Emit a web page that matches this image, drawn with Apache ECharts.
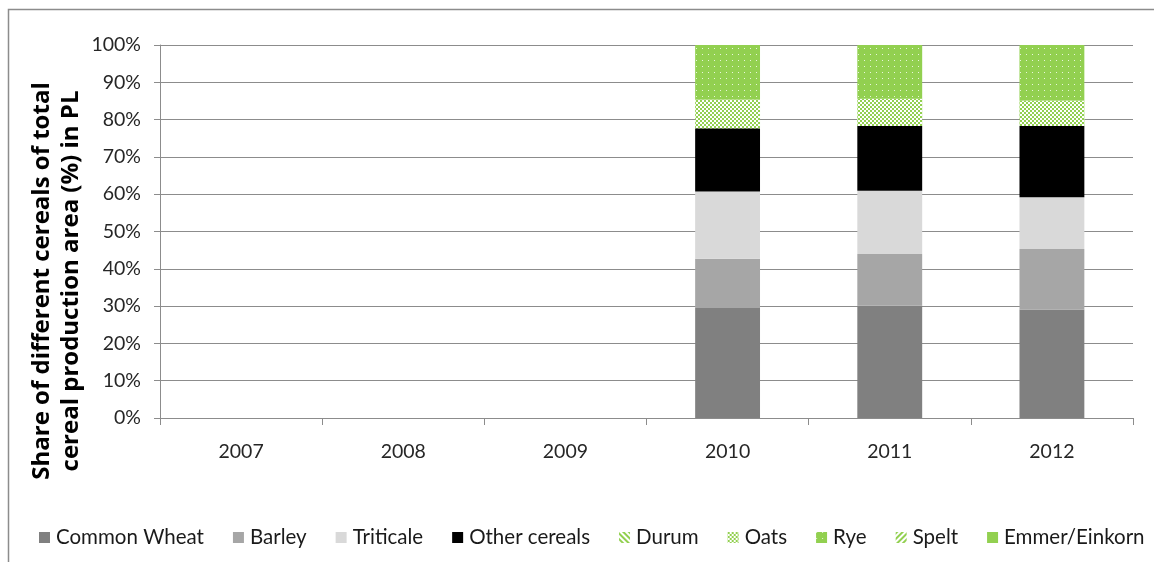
<!DOCTYPE html>
<html>
<head>
<meta charset="utf-8">
<script src="https://cdn.jsdelivr.net/npm/echarts@6/dist/echarts.min.js"></script>
<style>
  html, body { margin: 0; padding: 0; background: #fff; }
  #chart { width: 1154px; height: 562px; }
</style>
</head>
<body>
<div id="chart"></div>
<script>
// Years on the category axis
const years = ['2007', '2008', '2009', '2010', '2011', '2012'];

// Share of each cereal in total cereal production area (%), no data before 2010
const commonWheat  = [null, null, null, 29.5, 30.1, 29.1];
const barley       = [null, null, null, 13.2, 13.9, 16.2];
const triticale    = [null, null, null, 18.0, 16.9, 13.9];
const otherCereals = [null, null, null, 17.0, 17.4, 19.1];
const durum        = [null, null, null, 0, 0, 0];
const oats         = [null, null, null, 7.7, 7.3, 6.8];
const rye          = [null, null, null, 14.6, 14.4, 14.9];
const spelt        = [null, null, null, 0, 0, 0];
const emmer        = [null, null, null, 0, 0, 0];

// Y axis tick labels (percent)
const yTicks = [0, 10, 20, 30, 40, 50, 60, 70, 80, 90, 100];

const FONT = 'Lato';
const GREEN = '#92D050';

function bar(name, data, itemStyle) {
  return {
    name: name,
    type: 'bar',
    stack: 'total',
    barWidth: '40%',
    data: data,
    itemStyle: itemStyle,
    emphasis: { disabled: true }
  };
}

const series = [
  bar('Common Wheat', commonWheat, { color: '#808080' }),
  bar('Barley', barley, { color: '#A6A6A6' }),
  bar('Triticale', triticale, { color: '#D9D9D9' }),
  bar('Other cereals', otherCereals, { color: '#000000' }),
  bar('Durum', durum, {
    color: '#ffffff',
    decal: { symbol: 'rect', color: GREEN, dashArrayX: [1, 0], dashArrayY: [1.5, 2], rotation: Math.PI / 4, symbolSize: 1 }
  }),
  bar('Oats', oats, {
    color: GREEN,
    decal: { symbol: 'rect', color: '#ffffff', dashArrayX: [[2, 2], [0, 2, 2, 0]], dashArrayY: [2, 0], symbolSize: 1 }
  }),
  bar('Rye', rye, {
    color: GREEN,
    decal: { symbol: 'rect', color: 'rgba(255,255,255,0.8)', dashArrayX: [1, 5], dashArrayY: [1, 5], symbolSize: 1 }
  }),
  bar('Spelt', spelt, {
    color: '#ffffff',
    decal: { symbol: 'rect', color: GREEN, dashArrayX: [1, 0], dashArrayY: [1.5, 2], rotation: -Math.PI / 4, symbolSize: 1 }
  }),
  bar('Emmer/Einkorn', emmer, { color: GREEN })
];

const chart = echarts.init(document.getElementById('chart'), null, { renderer: 'canvas' });

chart.setOption({
  animation: false,
  backgroundColor: '#ffffff',
  textStyle: { fontFamily: FONT },
  graphic: [
    {
      // chart frame
      type: 'rect',
      shape: { x: 8.5, y: 9.5, width: 1170, height: 580 },
      style: { fill: 'none', stroke: '#8c8c8c', lineWidth: 1.5 },
      silent: true,
      z: -1
    },
    {
      // y axis title
      type: 'text',
      x: 57,
      y: 281,
      rotation: Math.PI / 2,
      style: {
        text: 'Share of different cereals of total\ncereal production area (%) in PL',
        font: 'bold 24px "Open Sans"',
        fill: '#000',
        align: 'center',
        verticalAlign: 'middle',
        lineHeight: 29
      },
      silent: true
    }
  ],
  grid: { left: 160, right: 21, top: 45, bottom: 144 },
  legend: {
    bottom: 9,
    left: 34,
    icon: 'rect',
    itemWidth: 11,
    itemHeight: 11,
    itemGap: 29,
    textStyle: { fontFamily: FONT, fontSize: 20.5, color: '#1a1a1a', padding: [0, 0, 0, 1] },
    data: series.map(s => s.name)
  },
  xAxis: {
    type: 'category',
    data: years,
    boundaryGap: true,
    axisLine: { lineStyle: { color: '#8c8c8c', width: 1 } },
    axisTick: { show: true, length: 7, alignWithLabel: false, lineStyle: { color: '#8c8c8c' } },
    axisLabel: { fontFamily: FONT, fontSize: 19.5, color: '#262626', margin: 24 }
  },
  yAxis: {
    type: 'value',
    min: yTicks[0],
    max: yTicks[yTicks.length - 1],
    interval: 10,
    axisLine: { show: true, lineStyle: { color: '#8c8c8c' } },
    axisTick: { show: true, length: 6, lineStyle: { color: '#8c8c8c' } },
    axisLabel: { fontFamily: FONT, fontSize: 19.5, color: '#262626', margin: 19, formatter: '{value}%' },
    splitLine: { show: true, lineStyle: { color: '#8c8c8c', width: 1.2 } }
  },
  series: series
});
</script>
</body>
</html>
